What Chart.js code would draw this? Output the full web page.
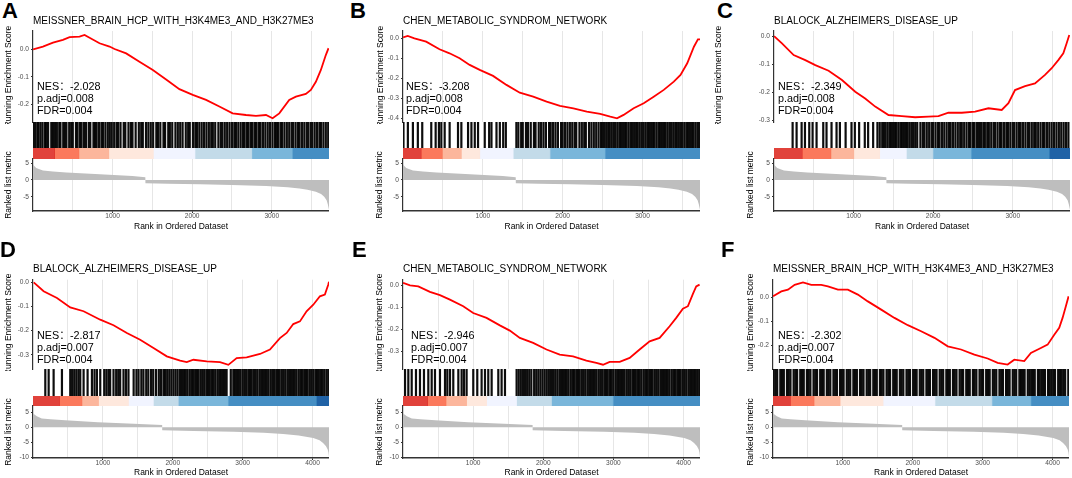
<!DOCTYPE html>
<html><head><meta charset="utf-8">
<script src="https://cdn.jsdelivr.net/npm/chart.js@4.4.0/dist/chart.umd.min.js"></script>
<style>
html,body{margin:0;padding:0;background:#fff;width:1072px;height:478px;overflow:hidden;position:relative;font-family:"Liberation Sans","Noto Sans CJK SC",Arial,sans-serif}
.lbl{position:absolute;font-weight:bold;font-size:22px;line-height:22px;color:#000}
.nes{position:absolute;font-size:10.8px;line-height:12.3px;white-space:pre;color:#000;font-family:"Liberation Sans","Noto Sans CJK SC",sans-serif}
</style></head><body>
<script>
// ---------------- DATA ----------------
const panelLetters = ['A','B','C','D','E','F'];
const panelTitles = ['MEISSNER_BRAIN_HCP_WITH_H3K4ME3_AND_H3K27ME3','CHEN_METABOLIC_SYNDROM_NETWORK','BLALOCK_ALZHEIMERS_DISEASE_UP','BLALOCK_ALZHEIMERS_DISEASE_UP','CHEN_METABOLIC_SYNDROM_NETWORK','MEISSNER_BRAIN_HCP_WITH_H3K4ME3_AND_H3K27ME3'];
const nesValues = ['-2.028','-3.208','-2.349','-2.817','-2.946','-2.302'];
const padjValues = ['0.008','0.008','0.008','0.007','0.007','0.007'];
const fdrValues = ['0.004','0.004','0.004','0.004','0.004','0.004'];

const datasetSizeTop = 3720;
const datasetSizeBottom = 4235;

const esRanksA = [1,125,251,376,460,585,648,711,836,962,1025,1171,1338,1506,1673,1840,2008,2175,2342,2509,2677,2802,2928,3011,3095,3220,3304,3429,3492,3555,3618,3680,3714];
const esValuesA = [0.0,0.01,0.024,0.034,0.044,0.046,0.052,0.042,0.022,0.01,0.001,-0.015,-0.045,-0.075,-0.11,-0.145,-0.166,-0.184,-0.208,-0.233,-0.239,-0.242,-0.239,-0.251,-0.233,-0.184,-0.172,-0.162,-0.148,-0.118,-0.075,-0.021,0.004];
const esRanksB = [1,59,143,290,457,583,709,835,961,1128,1296,1463,1631,1799,1966,2134,2302,2470,2596,2680,2763,2889,3015,3140,3266,3392,3476,3560,3644,3694,3720];
const esValuesB = [0.005,0.012,0.0,-0.017,-0.055,-0.075,-0.10,-0.133,-0.158,-0.188,-0.233,-0.272,-0.292,-0.317,-0.338,-0.35,-0.367,-0.378,-0.392,-0.40,-0.383,-0.35,-0.325,-0.292,-0.258,-0.217,-0.183,-0.125,-0.042,-0.005,-0.005];
const esRanksC = [1,100,247,393,519,686,854,1021,1146,1272,1439,1607,1774,1941,2067,2192,2360,2527,2695,2862,2946,3029,3155,3280,3406,3490,3573,3636,3678,3711];
const esValuesC = [0.0,-0.026,-0.068,-0.086,-0.104,-0.124,-0.157,-0.199,-0.223,-0.252,-0.282,-0.286,-0.29,-0.288,-0.286,-0.274,-0.274,-0.27,-0.258,-0.264,-0.24,-0.193,-0.179,-0.169,-0.139,-0.115,-0.086,-0.062,-0.026,0.004];
const esRanksD = [10,152,343,533,724,962,1152,1343,1533,1724,1914,2105,2200,2295,2486,2676,2795,2914,3057,3248,3390,3533,3629,3724,3819,3914,4010,4105,4176,4224,4235];
const esValuesD = [0.0,-0.037,-0.065,-0.104,-0.12,-0.155,-0.178,-0.21,-0.238,-0.272,-0.307,-0.325,-0.331,-0.321,-0.328,-0.331,-0.342,-0.314,-0.311,-0.297,-0.279,-0.231,-0.21,-0.173,-0.162,-0.12,-0.093,-0.058,-0.051,-0.01,0.002];
const esRanksE = [1,100,218,384,527,669,859,1001,1191,1381,1523,1666,1856,2046,2235,2425,2615,2757,2852,2947,3090,3232,3374,3517,3659,3802,3896,3991,4063,4134,4181,4229];
const esValuesE = [0.011,0.0,-0.005,-0.03,-0.045,-0.065,-0.095,-0.126,-0.148,-0.182,-0.206,-0.239,-0.262,-0.292,-0.315,-0.323,-0.342,-0.353,-0.361,-0.348,-0.348,-0.33,-0.292,-0.255,-0.239,-0.186,-0.148,-0.106,-0.095,-0.039,-0.005,0.003];
const esRanksF = [1,119,214,310,429,548,690,786,929,1071,1214,1357,1548,1738,1929,2119,2310,2500,2690,2881,3071,3214,3357,3452,3595,3690,3833,3929,4024,4095,4143,4190,4229];
const esValuesF = [0.003,0.023,0.03,0.05,0.06,0.05,0.05,0.044,0.03,0.03,0.01,-0.018,-0.052,-0.086,-0.116,-0.141,-0.168,-0.203,-0.216,-0.237,-0.253,-0.271,-0.278,-0.258,-0.264,-0.23,-0.21,-0.196,-0.155,-0.127,-0.086,-0.038,0.003];

const hitsA = [10,30,55,70,95,120,150,165,190,230,250,275,300,330,345,380,400,420,455,480,500,540,560,590,610,640,665,700,720,760,780,800,830,860,880,910,940,965,990,1020,1050,1070,1100,1140,1160,1200,1230,1250,1290,1330,1360,1380,1420,1450,1480,1510,1550,1570,1600,1640,1660,1700,1720,1750,1790,1820,1850,1880,1920,1950,1970,2010,2040,2060,2090,2120,2150,2180,2210,2240,2260,2290,2330,2360,2380,2410,2440,2470,2500,2530,2550,2580,2610,2640,2660,2690,2710,2740,2760,2790,2810,2840,2860,2890,2920,2950,2980,3010,3040,3060,3080,3110,3130,3160,3190,3220,3250,3270,3300,3330,3350,3380,3410,3440,3460,3490,3510,3540,3570,3600,3620,3650,3680,3710];
const hitsB = [6,61,124,186,241,354,409,450,480,522,584,689,731,815,857,899,940,1024,1079,1108,1171,1213,1255,1288,1420,1445,1480,1500,1540,1565,1600,1640,1660,1700,1730,1760,1790,1830,1850,1880,1910,1940,1980,2000,2030,2060,2090,2120,2150,2170,2210,2240,2270,2290,2330,2360,2390,2420,2450,2480,2500,2520,2545,2570,2590,2615,2640,2660,2685,2710,2730,2755,2780,2800,2825,2850,2870,2895,2920,2940,2965,2990,3010,3035,3060,3080,3105,3130,3150,3175,3200,3220,3245,3270,3290,3315,3340,3360,3385,3410,3430,3455,3480,3500,3525,3550,3570,3595,3620,3640,3665,3690,3710];
const hitsC = [234,284,347,389,443,485,535,619,660,723,786,828,900,974,1016,1070,1141,1183,1246,1300,1329,1360,1380,1400,1425,1450,1470,1495,1520,1540,1565,1590,1610,1635,1660,1680,1705,1730,1750,1775,1800,1840,1870,1890,1920,1950,1980,2000,2030,2060,2080,2110,2140,2170,2200,2220,2250,2280,2310,2340,2360,2390,2420,2450,2470,2500,2520,2550,2575,2600,2630,2650,2680,2700,2730,2760,2780,2810,2840,2860,2890,2920,2940,2970,3000,3020,3050,3080,3100,3130,3160,3190,3210,3240,3270,3290,3320,3350,3380,3400,3430,3460,3490,3520,3550,3580,3610,3640,3670,3700];
const hitsD = [176,224,295,414,533,560,590,620,650,676,724,781,843,880,914,962,1019,1050,1080,1104,1152,1190,1220,1247,1295,1330,1366,1440,1480,1510,1550,1580,1620,1650,1690,1720,1760,1800,1830,1866,1890,1920,1950,1980,2010,2040,2070,2104,2130,2160,2185,2210,2240,2265,2290,2320,2345,2370,2400,2425,2450,2480,2505,2530,2560,2585,2610,2640,2665,2690,2720,2745,2770,2830,2866,2890,2920,2945,2970,3000,3025,3050,3080,3105,3130,3160,3185,3210,3240,3265,3290,3320,3345,3370,3400,3425,3450,3480,3505,3530,3560,3585,3610,3640,3665,3690,3720,3745,3770,3800,3825,3850,3880,3905,3930,3960,3985,4010,4040,4065,4090,4120,4145,4170,4200,4225];
const hitsE = [29,76,124,185,242,299,361,409,456,527,599,632,670,717,789,836,869,907,1002,1059,1121,1169,1216,1264,1359,1406,1454,1620,1650,1680,1710,1740,1770,1800,1830,1870,1900,1930,1960,1990,2020,2050,2080,2110,2140,2170,2200,2230,2255,2280,2310,2335,2360,2390,2415,2440,2470,2495,2520,2550,2575,2600,2630,2655,2680,2710,2735,2760,2790,2815,2840,2870,2895,2920,2950,2975,3000,3030,3055,3080,3110,3135,3160,3190,3215,3240,3270,3295,3320,3350,3375,3400,3430,3455,3480,3510,3535,3560,3590,3615,3640,3670,3695,3720,3750,3775,3800,3830,3855,3880,3910,3935,3960,3990,4015,4040,4070,4095,4120,4150,4175,4200,4225];
const hitsF = [10,35,60,105,130,155,200,225,250,295,320,345,390,415,440,485,510,535,580,605,630,675,700,725,770,795,820,865,890,915,960,985,1010,1055,1080,1105,1150,1175,1200,1245,1270,1295,1340,1365,1390,1435,1460,1485,1530,1555,1580,1625,1650,1675,1720,1745,1770,1815,1840,1865,1910,1935,1960,2005,2030,2055,2100,2125,2150,2195,2220,2245,2290,2315,2340,2385,2410,2435,2480,2505,2530,2575,2600,2625,2670,2695,2720,2765,2790,2815,2860,2885,2910,2955,2980,3005,3050,3075,3100,3145,3170,3195,3240,3265,3290,3335,3360,3385,3430,3455,3480,3525,3550,3575,3600,3645,3670,3695,3720,3745,3790,3815,3840,3865,3890,3935,3960,3985,4010,4035,4080,4105,4130,4155,4180,4225];

// colour-bar bin boundaries (ranks) and bin colours
const binBreaksA = [0,272,577,953,1513,2036,2750,3260,3720];
const binColorsA = ['#DE2D26','#FB6A4A','#FCAE91','#FEE5D9','#EFF3FF','#BDD7E7','#6BAED6','#3182BD'];
const binBreaksB = [0,228,492,731,962,1381,1842,2533,3720];
const binColorsB = ['#DE2D26','#FB6A4A','#FCAE91','#FEE5D9','#EFF3FF','#BDD7E7','#6BAED6','#3182BD'];
const binBreaksC = [0,355,715,1003,1329,1664,1998,2479,3461,3720];
const binColorsC = ['#DE2D26','#FB6A4A','#FCAE91','#FEE5D9','#EFF3FF','#BDD7E7','#6BAED6','#3182BD','#08519C'];
const binBreaksD = [0,381,700,938,1366,1723,2080,2794,4056,4235];
const binColorsD = ['#DE2D26','#FB6A4A','#FCAE91','#FEE5D9','#EFF3FF','#BDD7E7','#6BAED6','#3182BD','#08519C'];
const binBreaksE = [0,352,613,907,1192,1620,2119,2997,4235];
const binColorsE = ['#DE2D26','#FB6A4A','#FCAE91','#FEE5D9','#EFF3FF','#BDD7E7','#6BAED6','#3182BD'];
const binBreaksF = [0,250,587,960,1575,2318,3133,3691,4235];
const binColorsF = ['#DE2D26','#FB6A4A','#FCAE91','#FEE5D9','#EFF3FF','#BDD7E7','#6BAED6','#3182BD'];

// ranked list metric (shared by the three panels of a row)
const metricRanksTop = [1,40,125,250,420,840,1250,1412,1413,1700,2100,2500,2930,3200,3350,3450,3555,3620,3660,3690,3705,3720];
const metricValuesTop = [4.5,3.5,2.8,2.5,2.2,1.7,1.2,0.8,-1.0,-1.15,-1.3,-1.5,-1.8,-2.2,-2.5,-2.9,-3.5,-4.2,-5.0,-6.0,-7.2,-8.8];
const metricRanksBottom = [1,55,125,250,460,930,1440,1848,1849,2300,2870,3300,3580,3800,4010,4100,4150,4190,4215,4228,4235];
const metricValuesBottom = [4.6,3.7,3.0,2.7,2.35,1.7,1.25,0.8,-1.0,-1.2,-1.45,-1.8,-2.2,-2.7,-3.55,-4.3,-5.2,-6.2,-7.3,-8.5,-9.9];

// tick labels
const esTicksA = [0.0,-0.1,-0.2];
const esTicksB = [0.0,-0.1,-0.2,-0.3,-0.4];
const esTicksC = [0.0,-0.1,-0.2,-0.3];
const esTicksD = [0.0,-0.1,-0.2,-0.3];
const esTicksE = [0.0,-0.1,-0.2,-0.3];
const esTicksF = [0.0,-0.1,-0.2];
const metricTicksTop = [5,0,-5];
const metricTicksBottom = [5,0,-5,-10];
const xLabelsTop = [1000,2000,3000];
const xLabelsBottom = [1000,2000,3000,4000];
const xGridTop = [500,1000,1500,2000,2500,3000,3500];
const xGridBottom = [500,1000,1500,2000,2500,3000,3500,4000];

// ---------------- LAYOUT ----------------
const esRanks = [esRanksA,esRanksB,esRanksC,esRanksD,esRanksE,esRanksF];
const esValues = [esValuesA,esValuesB,esValuesC,esValuesD,esValuesE,esValuesF];
const hits = [hitsA,hitsB,hitsC,hitsD,hitsE,hitsF];
const binBreaks = [binBreaksA,binBreaksB,binBreaksC,binBreaksD,binBreaksE,binBreaksF];
const binColors = [binColorsA,binColorsB,binColorsC,binColorsD,binColorsE,binColorsF];
const esTicks = [esTicksA,esTicksB,esTicksC,esTicksD,esTicksE,esTicksF];

const panels = [
  {L:33, R:329, row:0, esMin:-0.2644, esMax:0.0665, ytES:9,   ytM:9,   nesX:37,  letterX:2},
  {L:403,R:700, row:0, esMin:-0.4185, esMax:0.0365, ytES:381, ytM:380, nesX:406, letterX:350},
  {L:774,R:1070,row:0, esMin:-0.307,  esMax:0.018,  ytES:719, ytM:751, nesX:778, letterX:717},
  {L:33, R:329, row:1, esMin:-0.3593, esMax:0.0108, ytES:9,   ytM:9,   nesX:37,  letterX:0},
  {L:403,R:700, row:1, esMin:-0.3805, esMax:0.0255, ytES:380, ytM:380, nesX:411, letterX:352},
  {L:773,R:1069,row:1, esMin:-0.2963, esMax:0.0712, ytES:751, ytM:751, nesX:778, letterX:721}
];
const rows = [
  {N:datasetSizeTop, canvasTop:10, tPadTop:5.7, tPadBot:3.3, esBottom:122, hitBottom:148, barBottom:159, mBottom:211, canvasBottom:232,
   mMin:-9.2, mMax:6.2, mTicks:metricTicksTop, mRanks:metricRanksTop, mValues:metricValuesTop, xLabels:xLabelsTop, xGrid:xGridTop, nesTop:79.5, letterTop:0},
  {N:datasetSizeBottom, canvasTop:258, tPadTop:5, tPadBot:4.7, esBottom:369, hitBottom:396, barBottom:406, mBottom:458, canvasBottom:478,
   mMin:-10.25, mMax:7.15, mTicks:metricTicksBottom, mRanks:metricRanksBottom, mValues:metricValuesBottom, xLabels:xLabelsBottom, xGrid:xGridBottom, nesTop:328.5, letterTop:239}
];

const FONT = '"Liberation Sans", Arial, Helvetica, sans-serif';
Chart.defaults.font.family = FONT;
const W = 60;            // y-axis box width
const TITLE_FS = 8.5;    // axis title font size
const TICK_FS = 6.6;
const AXIS = '#333333';
const GRID = '#e6e6e6';
const M_PAD = 12;        // room above the metric panel for its rotated title

function box(left, top, width, height) {
  const d = document.createElement('div');
  d.style.cssText = 'position:absolute;left:'+left+'px;top:'+top+'px;width:'+width+'px;height:'+height+'px;';
  const c = document.createElement('canvas');
  d.appendChild(c);
  document.body.appendChild(d);
  return c;
}
function rgba(hex, a) {
  const n = parseInt(hex.slice(1), 16);
  return 'rgba(' + (n >> 16 & 255) + ',' + (n >> 8 & 255) + ',' + (n & 255) + ',' + a + ')';
}
const base = {responsive:true, maintainAspectRatio:false, animation:false, events:[]};
const noPlugins = {legend:{display:false}, tooltip:{enabled:false}, title:{display:false}};

function makePanel(i) {
  const p = panels[i], r = rows[p.row];
  const left = p.L - W, width = W + p.R - p.L;

  // letter
  const lt = document.createElement('div');
  lt.className = 'lbl'; lt.style.left = p.letterX + 'px'; lt.style.top = r.letterTop + 'px';
  lt.textContent = panelLetters[i];
  document.body.appendChild(lt);

  // 1. running enrichment score
  const c1 = box(left, r.canvasTop, width, r.esBottom + 2 - r.canvasTop);
  new Chart(c1, {
    type:'line',
    data:{datasets:[{data: esRanks[i].map((x,k)=>({x:x, y:esValues[i][k]})), borderColor:'#ff0000', borderWidth:1.8, pointRadius:0, tension:0, fill:false}]},
    options:Object.assign({}, base, {
      layout:{padding:{left:0,right:0,top:0,bottom:2}, autoPadding:false},
      plugins:{legend:{display:false}, tooltip:{enabled:false},
        title:{display:true, text:panelTitles[i], align:'start', fullSize:false, color:'#000',
               font:{size:10, family:FONT, weight:'normal', lineHeight:1.2}, padding:{top:r.tPadTop, bottom:r.tPadBot}}},
      scales:{
        x:{type:'linear', min:0, max:r.N,
           afterBuildTicks:s=>{s.ticks = r.xGrid.map(v=>({value:v}));},
           ticks:{display:false}, grid:{color:GRID, lineWidth:1, drawTicks:false}, border:{display:false},
           afterFit:s=>{s.height=0; s.paddingLeft=0; s.paddingRight=0;}},
        y:{type:'linear', min:p.esMin, max:p.esMax,
           afterBuildTicks:s=>{s.ticks = esTicks[i].map(v=>({value:v}));},
           ticks:{color:'#4d4d4d', font:{size:TICK_FS}, padding:2, callback:v=>Number(v).toFixed(1)},
           grid:{drawOnChartArea:false, drawTicks:true, tickLength:2, tickColor:AXIS},
           border:{display:true, color:AXIS, width:1.2},
           title:{display:true, text:'Running Enrichment Score', color:'#000', font:{size:TITLE_FS},
                  padding:{top:p.ytES - left - TITLE_FS*0.6, bottom:0}},
           afterFit:s=>{s.width=W; s.paddingTop=0; s.paddingBottom=0;}}
      }
    })
  });

  // NES text
  const nt = document.createElement('div');
  nt.className = 'nes'; nt.style.left = p.nesX + 'px'; nt.style.top = r.nesTop + 'px';
  nt.textContent = 'NES\uFF1A' + nesValues[i] + '\np.adj=' + padjValues[i] + '\nFDR=' + fdrValues[i];
  document.body.appendChild(nt);

  // 2. hits
  const hH = r.hitBottom - r.esBottom;
  const c2 = box(p.L, r.esBottom, p.R - p.L, hH);
  new Chart(c2, {
    type:'scatter',
    data:{datasets:[{data: hits[i].map(x=>({x:x, y:0})), pointStyle:'line', pointRotation:90, pointRadius:hH/2,
                     pointBorderColor:'rgba(0,0,0,0.95)', pointBorderWidth:2.2, showLine:false}]},
    options:Object.assign({}, base, {
      layout:{padding:0, autoPadding:false}, plugins:noPlugins,
      scales:{x:{type:'linear', min:0, max:r.N, display:false}, y:{type:'linear', min:-1, max:1, display:false}}
    })
  });

  // 3. colour bar
  const c3 = box(p.L, r.hitBottom, p.R - p.L, r.barBottom - r.hitBottom);
  new Chart(c3, {
    type:'bar',
    data:{labels:['rank'], datasets: binColors[i].map((col,k)=>({data:[[binBreaks[i][k], binBreaks[i][k+1]]],
          backgroundColor:rgba(col,0.9), borderWidth:0, grouped:false, barPercentage:1, categoryPercentage:1}))},
    options:Object.assign({}, base, {
      indexAxis:'y', layout:{padding:0, autoPadding:false}, plugins:noPlugins,
      scales:{x:{type:'linear', min:0, max:r.N, display:false}, y:{display:false}}
    })
  });

  // 4. ranked list metric
  const mTop = r.barBottom - M_PAD;
  const xH = r.canvasBottom - r.mBottom;
  const c4 = box(left, mTop, width, r.canvasBottom - mTop);
  new Chart(c4, {
    type:'line',
    data:{datasets:[{data: r.mRanks.map((x,k)=>({x:x, y:r.mValues[k]})), fill:'origin', backgroundColor:'#bebebe',
                     borderColor:'rgba(0,0,0,0)', borderWidth:0, pointRadius:0, tension:0}]},
    options:Object.assign({}, base, {
      layout:{padding:{top:M_PAD, left:0, right:0, bottom:0}, autoPadding:false}, plugins:noPlugins,
      scales:{
        x:{type:'linear', min:0, max:r.N,
           afterBuildTicks:s=>{s.ticks = r.xGrid.map(v=>({value:v}));},
           ticks:{color:'#4d4d4d', font:{size:TICK_FS}, padding:-1, maxRotation:0, autoSkip:false,
                  callback:v=>r.xLabels.includes(v) ? String(v) : ''},
           grid:{color:GRID, lineWidth:1, drawTicks:true, tickLength:2,
                 tickColor:ctx=>(ctx.tick && r.xLabels.includes(ctx.tick.value)) ? AXIS : 'rgba(0,0,0,0)'},
           border:{display:true, color:AXIS, width:1.4},
           title:{display:true, text:'Rank in Ordered Dataset', color:'#000', font:{size:TITLE_FS}, padding:{top:0, bottom:0}},
           afterFit:s=>{s.height=xH; s.paddingLeft=0; s.paddingRight=0;}},
        y:{type:'linear', min:r.mMin, max:r.mMax,
           afterBuildTicks:s=>{s.ticks = r.mTicks.map(v=>({value:v}));},
           ticks:{color:'#4d4d4d', font:{size:TICK_FS}, padding:2, callback:v=>String(v)},
           grid:{drawOnChartArea:false, drawTicks:true, tickLength:2, tickColor:AXIS},
           border:{display:true, color:AXIS, width:1.2},
           title:{display:true, text:'Ranked list metric', color:'#000', font:{size:TITLE_FS},
                  padding:{top:p.ytM - left - TITLE_FS*0.6, bottom:0}},
           afterFit:s=>{s.width=W; s.paddingTop=0; s.paddingBottom=0;}}
      }
    })
  });
}
for (let i = 0; i < 6; i++) makePanel(i);
</script>
</body></html>
